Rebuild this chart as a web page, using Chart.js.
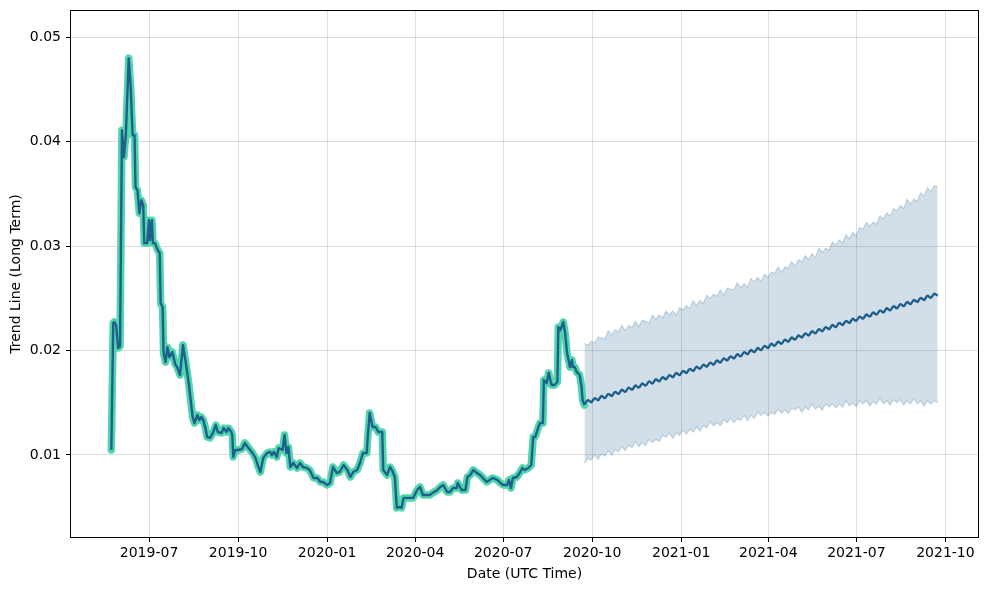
<!DOCTYPE html>
<html><head><meta charset="utf-8">
<script src="https://cdn.jsdelivr.net/npm/chart.js@4.4.1/dist/chart.umd.min.js"></script>
<style>html,body{margin:0;padding:0;background:#fff;}canvas{display:block;}</style>
</head><body>
<canvas id="c" width="989" height="590"></canvas>
<script>
// ---- data ----
const startDate = '2019-05-23';
const histDay = [0,2,3,5,7,9,11,13,15,18,20,22,24,25,27,29,31,33,34,37,39,40,42,43,45,48,50,51,53,54,56,58,60,63,66,68,71,74,77,80,82,84,86,89,91,93,95,97,99,102,105,108,110,114,116,119,121,124,125,126,128,131,135,138,141,146,149,152,154,157,161,164,166,168,171,173,177,179,181,183,185,188,192,195,198,202,205,209,213,216,219,223,226,229,233,236,240,244,247,250,254,257,260,264,265,267,270,273,276,280,281,285,288,290,293,295,297,300,302,306,309,312,316,319,322,326,329,332,337,340,343,347,350,353,357,358,362,366,368,371,374,378,381,384,388,391,394,399,402,405,409,411,413,415,419,422,425,427,431,434,436,438,441,443,446,447,450,452,455,458,461,462,464,466,467,469,471,474,476,477,479,481,484,486,487,489];
const histPrice = [0.01048,0.02263,0.02273,0.02244,0.02024,0.02043,0.04110,0.03852,0.04062,0.04799,0.04522,0.04062,0.04062,0.03565,0.03536,0.03316,0.03440,0.03392,0.03029,0.03029,0.03249,0.03057,0.03249,0.03029,0.03029,0.02962,0.02933,0.02455,0.02416,0.01976,0.01890,0.02033,0.01938,0.01986,0.01871,0.01842,0.01766,0.02053,0.01880,0.01689,0.01526,0.01364,0.01306,0.01383,0.01335,0.01364,0.01335,0.01268,0.01172,0.01163,0.01211,0.01287,0.01220,0.01211,0.01258,0.01220,0.01258,0.01220,0.01191,0.00981,0.01048,0.01048,0.01057,0.01115,0.01077,0.01019,0.00971,0.00885,0.00837,0.00971,0.01019,0.01029,0.01000,0.01029,0.00981,0.01067,0.01048,0.01191,0.01019,0.01077,0.00885,0.00923,0.00876,0.00923,0.00885,0.00876,0.00856,0.00780,0.00780,0.00742,0.00742,0.00713,0.00732,0.00885,0.00828,0.00837,0.00904,0.00856,0.00789,0.00837,0.00856,0.00923,0.01019,0.01019,0.01172,0.01402,0.01268,0.01268,0.01220,0.01220,0.00856,0.00809,0.00885,0.00856,0.00789,0.00493,0.00502,0.00493,0.00589,0.00589,0.00589,0.00589,0.00665,0.00694,0.00617,0.00617,0.00617,0.00636,0.00665,0.00694,0.00713,0.00646,0.00646,0.00684,0.00684,0.00732,0.00665,0.00665,0.00789,0.00809,0.00856,0.00828,0.00809,0.00780,0.00742,0.00761,0.00780,0.00761,0.00732,0.00713,0.00713,0.00761,0.00684,0.00780,0.00789,0.00828,0.00876,0.00856,0.00876,0.00904,0.01172,0.01172,0.01258,0.01306,0.01306,0.01718,0.01689,0.01785,0.01670,0.01670,0.01699,0.02225,0.02196,0.02244,0.02273,0.02167,0.01976,0.01842,0.01910,0.01842,0.01842,0.01794,0.01766,0.01651,0.01526,0.01478];

const fcStartDay = 489, fcEndDay = 854;
const fcTrend = [0.01485,0.01525,0.01505,0.01545,0.01525,0.01565,0.01545,0.01585,0.01565,0.01605,0.01585,0.01625,0.01605,0.01645,0.01625,0.01665,0.01645,0.01685,0.01665,0.01705,0.01685,0.01725,0.01705,0.01745,0.01725,0.01765,0.01745,0.01785,0.01765,0.01805,0.01785,0.01825,0.01805,0.01845,0.01825,0.01865,0.01845,0.01885,0.01865,0.01905,0.01885,0.01925,0.01905,0.01945,0.01925,0.01965,0.01945,0.01985,0.01965,0.02005,0.01985,0.02025,0.02005,0.02045,0.02025,0.02065,0.02045,0.02085,0.02065,0.02105,0.02085,0.02125,0.02105,0.02145,0.02125,0.02165,0.02145,0.02185,0.02165,0.02205,0.02185,0.02225,0.02205,0.02245,0.02225,0.02265,0.02245,0.02285,0.02265,0.02305,0.02285,0.02325,0.02305,0.02345,0.02325,0.02365,0.02345,0.02385,0.02365,0.02405,0.02385,0.02425,0.02405,0.02445,0.02425,0.02465,0.02445,0.02485,0.02465,0.02505,0.02485,0.02525,0.02505,0.02545,0.02525];
const fcUpper = [0.0207,0.0205,0.0209,0.0207,0.0213,0.0212,0.0211,0.0219,0.0215,0.0220,0.0218,0.0224,0.0219,0.0224,0.0222,0.0228,0.0223,0.0229,0.0228,0.0226,0.0234,0.0230,0.0234,0.0231,0.0238,0.0234,0.0238,0.0234,0.0241,0.0239,0.0243,0.0240,0.0248,0.0243,0.0248,0.0245,0.0253,0.0250,0.0254,0.0252,0.0258,0.0253,0.0260,0.0259,0.0258,0.0265,0.0260,0.0264,0.0261,0.0269,0.0266,0.0270,0.0266,0.0273,0.0270,0.0275,0.0274,0.0280,0.0275,0.0280,0.0279,0.0285,0.0281,0.0287,0.0285,0.0291,0.0287,0.0293,0.0289,0.0298,0.0294,0.0298,0.0296,0.0304,0.0301,0.0306,0.0303,0.0311,0.0307,0.0313,0.0310,0.0318,0.0316,0.0323,0.0319,0.0323,0.0321,0.0329,0.0326,0.0332,0.0329,0.0336,0.0334,0.0339,0.0336,0.0345,0.0340,0.0345,0.0343,0.0351,0.0348,0.0356,0.0352,0.0358,0.0357];
const fcLower = [0.0092,0.0097,0.0095,0.0100,0.0096,0.0101,0.0099,0.0104,0.0100,0.0105,0.0103,0.0108,0.0104,0.0109,0.0107,0.0113,0.0108,0.0112,0.0109,0.0115,0.0112,0.0115,0.0113,0.0119,0.0117,0.0121,0.0116,0.0121,0.0119,0.0124,0.0120,0.0125,0.0122,0.0127,0.0123,0.0128,0.0126,0.0132,0.0128,0.0131,0.0128,0.0134,0.0131,0.0135,0.0131,0.0135,0.0133,0.0138,0.0133,0.0138,0.0135,0.0141,0.0138,0.0141,0.0137,0.0141,0.0139,0.0144,0.0140,0.0143,0.0140,0.0145,0.0143,0.0146,0.0141,0.0146,0.0143,0.0149,0.0144,0.0147,0.0143,0.0149,0.0146,0.0149,0.0145,0.0149,0.0146,0.0152,0.0147,0.0150,0.0146,0.0152,0.0149,0.0152,0.0147,0.0151,0.0149,0.0154,0.0149,0.0152,0.0148,0.0153,0.0150,0.0153,0.0148,0.0152,0.0149,0.0154,0.0149,0.0152,0.0147,0.0152,0.0149,0.0152,0.0150];

const xTickLabels = ['2019-07','2019-10','2020-01','2020-04','2020-07','2020-10','2021-01','2021-04','2021-07','2021-10'];
const yTickValues = [0.01,0.02,0.03,0.04,0.05];

// ---- build ----
const toUTC = s => { const p = s.split('-').map(Number); return Date.UTC(p[0], p[1]-1, p[2] || 1); };
const START = toUTC(startDate);
const dayOf = s => (toUTC(s) - START) / 86400000;
const xTickDays = xTickLabels.map(dayOf);

const histPts = histDay.map((d, i) => ({x: d, y: histPrice[i]}));
const fcX = fcTrend.map((_, i) => fcStartDay + i * (fcEndDay - fcStartDay) / (fcTrend.length - 1));
const fcTrendPts = fcTrend.map((v, i) => ({x: fcX[i], y: v}));
const fcUpperPts = fcUpper.map((v, i) => ({x: fcX[i], y: v}));
const fcLowerPts = fcLower.map((v, i) => ({x: fcX[i], y: v}));

const span = fcEndDay - 0;
const xMin = -0.05 * span, xMax = fcEndDay + 0.05 * span;

const DARK = '#1f5f8b';
const TEAL = '#50d6ac';
const BAND = 'rgba(31,95,139,0.2)';
const BANDEDGE = 'rgba(31,95,139,0.22)';

Chart.defaults.font.family = "'DejaVu Sans', sans-serif";
Chart.defaults.font.size = 14;
Chart.defaults.color = '#000';

const framePlugin = {
  id: 'frame',
  afterDraw(chart) {
    const {ctx, chartArea: a} = chart;
    ctx.save();
    ctx.strokeStyle = '#000';
    ctx.lineWidth = 1;
    ctx.strokeRect(Math.round(a.left) + 0.5, Math.round(a.top) + 0.5,
                   Math.round(a.right - a.left) - 1, Math.round(a.bottom - a.top) - 1);
    ctx.restore();
  }
};

new Chart(document.getElementById('c'), {
  type: 'line',
  data: {
    datasets: [
      {data: histPts, borderColor: DARK, borderWidth: 2.4, pointRadius: 0, order: 0, borderJoinStyle: 'round', fill: false},
      {data: fcTrendPts, borderColor: DARK, borderWidth: 2.4, pointRadius: 0, order: 1, cubicInterpolationMode: 'monotone', fill: false},
      {data: histPts, borderColor: TEAL, borderWidth: 7.5, pointRadius: 0, order: 2, borderJoinStyle: 'round', borderCapStyle: 'round', fill: false},
      {data: fcUpperPts, borderColor: BANDEDGE, backgroundColor: BAND, borderWidth: 1.2, pointRadius: 0, order: 3, fill: '+1'},
      {data: fcLowerPts, borderColor: BANDEDGE, borderWidth: 1.2, pointRadius: 0, order: 4, fill: false}
    ]
  },
  options: {
    responsive: false,
    animation: false,
    devicePixelRatio: 1,
    events: [],
    layout: {padding: {top: 10, right: 10, left: 0, bottom: 0}},
    plugins: {legend: {display: false}, tooltip: {enabled: false}, title: {display: false}},
    scales: {
      x: {
        type: 'linear', min: xMin, max: xMax,
        afterBuildTicks: s => { s.ticks = xTickDays.map(v => ({value: v})); },
        afterFit: s => { s.height = 52; s.paddingLeft = 0; s.paddingRight = 0; },
        ticks: {autoSkip: false, maxRotation: 0, padding: 3,
                callback: v => { const i = xTickDays.indexOf(v); return i >= 0 ? xTickLabels[i] : ''; }},
        grid: {color: 'rgba(0,0,0,0.13)', tickColor: '#000', tickLength: 4, lineWidth: 1},
        border: {display: false},
        title: {display: true, text: 'Date (UTC Time)', padding: {top: 0, bottom: 7}}
      },
      y: {
        type: 'linear', min: 0.00205, max: 0.05262,
        afterBuildTicks: s => { s.ticks = yTickValues.map(v => ({value: v})); },
        afterFit: s => { s.width = 70; s.paddingTop = 0; s.paddingBottom = 0; },
        ticks: {padding: 5, callback: v => v.toFixed(2)},
        grid: {color: 'rgba(0,0,0,0.13)', tickColor: '#000', tickLength: 4, lineWidth: 1},
        border: {display: false},
        title: {display: true, text: 'Trend Line (Long Term)', padding: {top: 8, bottom: 0}}
      }
    }
  },
  plugins: [framePlugin]
});
</script>
</body></html>
